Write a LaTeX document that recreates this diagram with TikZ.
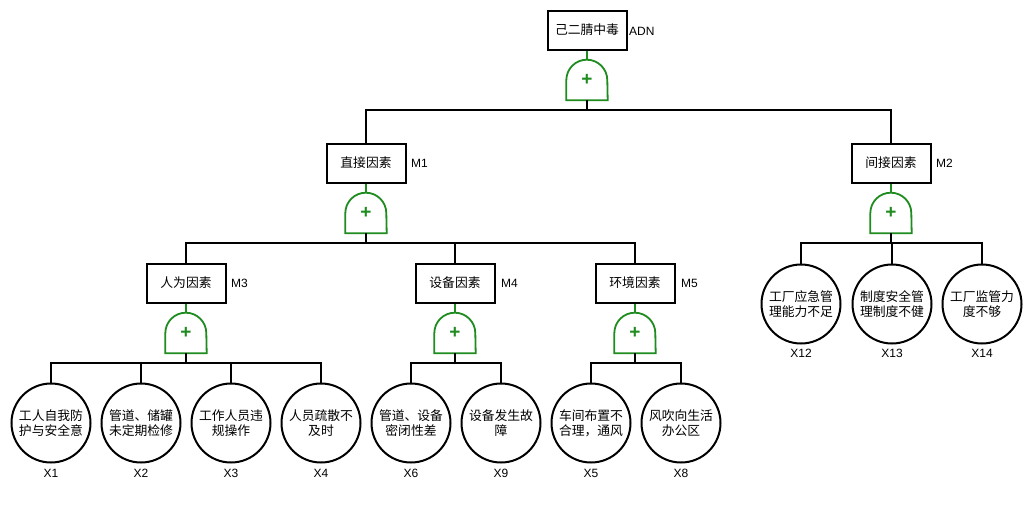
\documentclass[tikz,border=0pt]{standalone}
\usepackage{fontspec}
\setmainfont{Liberation Sans}
\newfontfamily\cjk{Noto Sans CJK SC}
\definecolor{gategreen}{RGB}{30,140,30}
\tikzset{
  event/.style={draw, line width=2pt, minimum width=79pt, minimum height=39pt,
    font=\cjk\fontsize{12.8}{15}\selectfont},
  basic/.style={draw, circle, line width=2pt, minimum size=79pt, inner sep=0pt,
    align=center, font=\cjk\fontsize{12.8}{15}\selectfont},
  gate/.style={minimum width=41pt, minimum height=40pt, inner sep=0pt,
    text=gategreen, font=\bfseries\fontsize{19}{19}\selectfont},
  gateline/.style={draw=gategreen, line width=1.8pt},
  link/.style={line width=2pt},
  tag/.style={inner sep=0pt, font=\fontsize{12}{12}\selectfont},
}
\newcommand{\orgate}[1]{%
  \draw[gateline] (#1.south west) -- ++(0,-20) arc (180:360:20.5) -- (#1.south east) -- cycle;}
\begin{document}
\begin{tikzpicture}[x=1pt,y=-1pt]
  \path[fill=white,use as bounding box] (0,0) rectangle (1031,523);
  % top event
  \node[event] (top) at (587,30) {己二腈中毒};
  \node[tag,anchor=west] (topt) at (629,31) {ADN};
  \node[gate] (g0) at (587,80) {+};
  % middle events
  \node[event] (M1) at (366,163) {直接因素};
  \node[tag,anchor=west] (M1t) at (411,163) {M1};
  \node[event] (M2) at (891,163) {间接因素};
  \node[tag,anchor=west] (M2t) at (936,163) {M2};
  \node[gate] (g1) at (366,213) {+};
  \node[gate] (g2) at (891,213) {+};
  \node[event] (M3) at (186,283) {人为因素};
  \node[tag,anchor=west] (M3t) at (231,283) {M3};
  \node[event] (M4) at (455,283) {设备因素};
  \node[tag,anchor=west] (M4t) at (501,283) {M4};
  \node[event] (M5) at (635,283) {环境因素};
  \node[tag,anchor=west] (M5t) at (681,283) {M5};
  \node[gate] (g3) at (186,333) {+};
  \node[gate] (g4) at (455,333) {+};
  \node[gate] (g5) at (635,333) {+};
  % basic events
  \node[basic] (X1) at (51,423) {工人自我防\\护与安全意};
  \node[basic] (X2) at (141,423) {管道、储罐\\未定期检修};
  \node[basic] (X3) at (231,423) {工作人员违\\规操作};
  \node[basic] (X4) at (321,423) {人员疏散不\\及时};
  \node[basic] (X6) at (411,423) {管道、设备\\密闭性差};
  \node[basic] (X9) at (501,423) {设备发生故\\障};
  \node[basic] (X5) at (591,423) {车间布置不\\合理，通风};
  \node[basic] (X8) at (681,423) {风吹向生活\\办公区};
  \node[basic] (X12) at (801,304) {工厂应急管\\理能力不足};
  \node[basic] (X13) at (892,304) {制度安全管\\理制度不健};
  \node[basic] (X14) at (982,304) {工厂监管力\\度不够};
  \node[tag] (X1t) at (51,473) {X1};
  \node[tag] (X2t) at (141,473) {X2};
  \node[tag] (X3t) at (231,473) {X3};
  \node[tag] (X4t) at (321,473) {X4};
  \node[tag] (X6t) at (411,473) {X6};
  \node[tag] (X9t) at (501,473) {X9};
  \node[tag] (X5t) at (591,473) {X5};
  \node[tag] (X8t) at (681,473) {X8};
  \node[tag] (X12t) at (801,353) {X12};
  \node[tag] (X13t) at (892,353) {X13};
  \node[tag] (X14t) at (982,353) {X14};
  % gates
  \orgate{g0} \orgate{g1} \orgate{g2} \orgate{g3} \orgate{g4} \orgate{g5}
  \draw[gateline] (top) -- (g0);
  \draw[gateline] (M1) -- (g1);
  \draw[gateline] (M2) -- (g2);
  \draw[gateline] (M3) -- (g3);
  \draw[gateline] (M4) -- (g4);
  \draw[gateline] (M5) -- (g5);
  % tree lines
  \draw[link] (g0.south) -- ++(0,10) -| (M1.north);
  \draw[link] (g0.south) -- ++(0,10) -| (M2.north);
  \draw[link] (g1.south) -- ++(0,10) -| (M3.north);
  \draw[link] (g1.south) -- ++(0,10) -| (M4.north);
  \draw[link] (g1.south) -- ++(0,10) -| (M5.north);
  \draw[link] (g2.south) -- ++(0,10) -| (X12.north);
  \draw[link] (g2.south) -- ++(0,10) -| (X13.north);
  \draw[link] (g2.south) -- ++(0,10) -| (X14.north);
  \draw[link] (g3.south) -- ++(0,10) -| (X1.north);
  \draw[link] (g3.south) -- ++(0,10) -| (X2.north);
  \draw[link] (g3.south) -- ++(0,10) -| (X3.north);
  \draw[link] (g3.south) -- ++(0,10) -| (X4.north);
  \draw[link] (g4.south) -- ++(0,10) -| (X6.north);
  \draw[link] (g4.south) -- ++(0,10) -| (X9.north);
  \draw[link] (g5.south) -- ++(0,10) -| (X5.north);
  \draw[link] (g5.south) -- ++(0,10) -| (X8.north);
\end{tikzpicture}
\end{document}
